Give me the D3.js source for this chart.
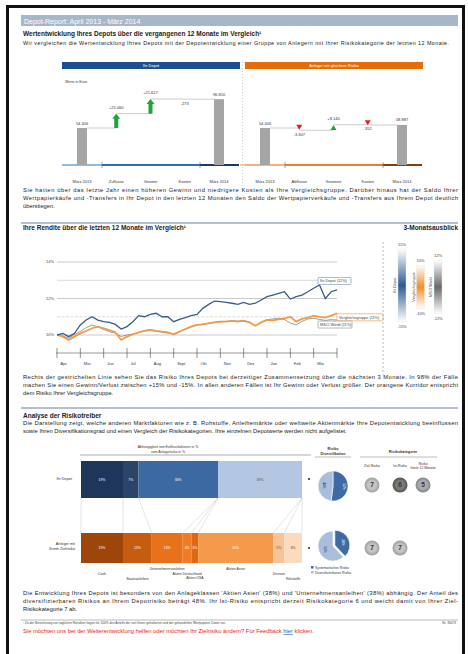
<!DOCTYPE html>
<html>
<head>
<meta charset="utf-8">
<script src="https://cdn.jsdelivr.net/npm/d3@7"></script>
<style>
body{margin:0;background:#fff}
svg{display:block;font-family:Arial,"Liberation Sans",sans-serif}
</style>
</head>
<body>
<svg id="page"></svg>
<script>
// waterfall data
const depotCats = ["März 2013", "Zuflüsse", "Gewinn", "Kosten", "März 2014"];
const depotVals = [54406, 21060, 21617, -273, 96810];
const depotMarks = ["arrow", "arrow", "none"];
const peerCats = ["März 2013", "Abflüsse", "Gewinne", "Kosten", "März 2014"];
const peerVals = [54406, -3307, 8140, -352, 58887];
const peerMarks = ["tri", "tri", "tri"];

// line chart data (quarter month steps, Apr 2013 - Mär 2014)
const months = ["Apr", "Mai", "Jun", "Jul", "Aug", "Sept", "Okt", "Nov", "Dez", "Jan", "Feb", "Mär"];
const yTicks = [10, 11, 12, 13, 14];
const depotSeries = [10.00, 10.09, 9.91, 10.09, 10.55, 10.82, 11.00, 10.82, 10.73, 10.69, 10.58, 10.33,
  10.46, 10.73, 11.06, 11.00, 11.13, 11.19, 11.00, 11.00, 10.73, 10.86, 10.95, 11.06,
  11.13, 11.46, 11.68, 11.86, 11.83, 11.79, 11.74, 11.68, 11.79, 11.68, 11.74, 11.92,
  12.10, 12.19, 12.28, 12.37, 11.97, 12.10, 12.19, 12.37, 12.56, 12.74, 12.00, 12.37, 12.47];
const peerSeries = [10.00, 9.91, 9.73, 9.91, 10.09, 10.22, 10.37, 10.46, 10.37, 10.27, 10.15, 9.73,
  9.91, 10.04, 10.15, 10.22, 10.27, 10.22, 10.18, 10.15, 10.04, 10.18, 10.33, 10.46,
  10.55, 10.58, 10.64, 10.69, 10.73, 10.73, 10.77, 10.73, 10.77, 10.69, 10.51, 10.69,
  10.82, 10.80, 10.86, 10.91, 11.00, 10.73, 10.88, 10.95, 11.06, 10.99, 10.95, 11.06, 11.19];
const msciSeries = [10.00, 9.95, 9.82, 10.02, 10.20, 10.40, 10.55, 10.45, 10.30, 10.18, 10.10, 9.92,
  10.00, 10.05, 10.12, 10.25, 10.30, 10.22, 10.15, 10.10, 10.06, 10.20, 10.32, 10.45,
  10.55, 10.60, 10.65, 10.70, 10.72, 10.75, 10.78, 10.76, 10.80, 10.70, 10.50, 10.70,
  10.84, 10.88, 10.92, 10.85, 10.65, 10.55, 10.75, 10.88, 10.92, 10.85, 10.80, 10.84, 10.82];
const seriesLabels = ["Ihr Depot (12%)", "Vergleichsgruppe (11%)", "MSCI World (11%)"];

// 3-Monatsausblick
const outlookNames = ["Ihr Depot", "Vergleichsgruppe", "MSCI World"];
const outlookRange = [15, 10, 12];

// risk drivers
const factorCats = ["Cash", "Staatsanleihen", "Unternehmensanleihen", "Aktien Deutschland", "Aktien USA", "Aktien Asien", "Devisen", "Rohstoffe"];
const depotShares = [19, 7, 36, 0, 0, 38, 0, 0];
const peerShares = [19, 13, 14, 4, 3, 34, 5, 8];
const divDepot = [52, 48];
const divPeer = [38, 62];
const divNames = ["Systematisches Risiko", "Diversifizierbares Risiko"];
const riskHeads = ["Ziel-Risiko", "Ist-Risiko", "Risiko letzte 12 Monate"];
const riskDepot = [7, 6, 5];
const riskPeer = [7, 7];

const svg = d3.select("#page").attr("width", 468).attr("height", 654);
const de = d3.formatLocale({decimal: ",", thousands: ".", grouping: [3], currency: ["", "€"], minus: "-"});
const fmtVal = de.format(",d"), fmtStep = de.format("+,d");

function txt(x, y, s, size, opts) {
  opts = opts || {};
  return svg.append("text").attr("x", x).attr("y", y).attr("font-size", size)
    .attr("fill", opts.fill || "#222").attr("font-weight", opts.bold ? "bold" : null)
    .attr("text-anchor", opts.anchor || "start").text(s);
}
function para(lines, y, lh) {
  lines.forEach((s, i) => {
    const t = txt(23, y + i * lh, s, 5.8);
    if (i < lines.length - 1) t.attr("textLength", 435).attr("lengthAdjust", "spacing");
  });
}

// frame + header
svg.append("rect").attr("x", 7.5).attr("y", 6.5).attr("width", 456).attr("height", 660)
  .attr("fill", "#fff").attr("stroke", "#111").attr("stroke-width", 3);
svg.append("rect").attr("x", 21).attr("y", 15).attr("width", 437).attr("height", 11).attr("fill", "#a8b6ca");
txt(24, 23.5, "Depot-Report: April 2013 - März 2014", 7, {fill: "#fff"});
txt(23, 35.5, "Wertentwicklung Ihres Depots über die vergangenen 12 Monate im Vergleich¹", 6.5, {bold: true});
txt(23, 45, "Wir vergleichen die Wertentwicklung Ihres Depots mit der Depotentwicklung einer Gruppe von Anlegern mit Ihrer Risikokategorie der letzten 12 Monate.", 5.4)
  .attr("textLength", 426).attr("lengthAdjust", "spacing");

// ---------- waterfalls ----------
function waterfall(cats, vals, marks, xr, title, col, base) {
  const x = d3.scalePoint().domain(cats).range(xr);
  const y = d3.scaleLinear().domain([0, 100000]).range([165, 97]);
  const g = svg.append("g");
  g.append("rect").attr("x", xr[0] - 20).attr("y", 62).attr("width", 178).attr("height", 7).attr("fill", col);
  g.append("text").attr("x", xr[0] + 69).attr("y", 67.3).attr("font-size", 4).attr("fill", "#fff")
    .attr("text-anchor", "middle").text(title);

  // baseline in three parts
  const bx = [xr[0] - 20, xr[0] + 20, xr[1] - 19, xr[1] + 20];
  base.forEach((c, i) => {
    g.append("line").attr("x1", bx[i]).attr("x2", bx[i + 1]).attr("y1", 165).attr("y2", 165)
      .attr("stroke", c).attr("stroke-width", 2);
  });
  [bx[1], bx[2]].forEach(t => g.append("line").attr("x1", t).attr("x2", t).attr("y1", 162).attr("y2", 168)
    .attr("stroke", "#666").attr("stroke-width", 0.6));

  const n = cats.length;
  [0, n - 1].forEach(i => {
    g.append("rect").attr("x", x(cats[i]) - 5).attr("y", y(vals[i])).attr("width", 10)
      .attr("height", y(0) - y(vals[i])).attr("fill", "#a5a5a5");
    g.append("text").attr("x", x(cats[i])).attr("y", y(vals[i]) - 3.5).attr("font-size", 4)
      .attr("text-anchor", "middle").attr("fill", "#333").text(fmtVal(vals[i]));
  });

  let run = vals[0];
  let lx = x(cats[0]) + 5;
  for (let i = 1; i < n - 1; i++) {
    const xc = x(cats[i]);
    const prev = run;
    run += vals[i];
    g.append("line").attr("x1", lx).attr("x2", xc).attr("y1", y(prev)).attr("y2", y(prev))
      .attr("stroke", "#9a9a9a").attr("stroke-width", 0.5);
    const y0 = y(prev), y1 = y(run), up = vals[i] > 0;
    const m = marks[i - 1];
    if (m === "arrow") {
      g.append("path").attr("fill", "#1fa33c")
        .attr("d", `M${xc - 2},${y0} L${xc - 2},${y1 + 5} L${xc - 4},${y1 + 5} L${xc},${y1} L${xc + 4},${y1 + 5} L${xc + 2},${y1 + 5} L${xc + 2},${y0} Z`);
    } else if (m === "tri") {
      const yc = (y0 + y1) / 2 - (up ? 0 : 2);
      const d = up ? `M${xc - 3},${yc + 2.5} L${xc + 3},${yc + 2.5} L${xc},${yc - 2.5} Z`
                   : `M${xc - 3},${yc - 2.5} L${xc + 3},${yc - 2.5} L${xc},${yc + 2.5} Z`;
      g.append("path").attr("d", d).attr("fill", up ? "#1fa33c" : "#e0221c");
    }
    g.append("text").attr("x", xc).attr("y", up ? Math.min(y0, y1) - 4.5 : Math.max(y0, y1) + 5.5)
      .attr("font-size", 4).attr("text-anchor", "middle").attr("fill", "#333").text(fmtStep(vals[i]));
    lx = xc;
  }
  g.append("line").attr("x1", lx).attr("x2", x(cats[n - 1]) - 5).attr("y1", y(run)).attr("y2", y(run))
    .attr("stroke", "#9a9a9a").attr("stroke-width", 0.5);

  cats.forEach(c => g.append("text").attr("x", x(c)).attr("y", 183).attr("font-size", 4)
    .attr("text-anchor", "middle").attr("fill", "#333").text(c));
}
waterfall(depotCats, depotVals, depotMarks, [82, 219], "Ihr Depot", "#1f4e8c", ["#8fbce6", "#2f6db5", "#1f3864"]);
waterfall(peerCats, peerVals, peerMarks, [265, 402], "Anleger mit gleichem Risiko", "#e46c0a", ["#f4b183", "#ed7d31", "#7f3f10"]);
txt(65, 82.5, "Werte in Euro", 3.6, {fill: "#333"});
svg.append("line").attr("x1", 242.5).attr("x2", 242.5).attr("y1", 62).attr("y2", 188)
  .attr("stroke", "#b0b0b0").attr("stroke-width", 0.6).attr("stroke-dasharray", "1,2");
svg.append("line").attr("x1", 240).attr("x2", 245).attr("y1", 165).attr("y2", 165).attr("stroke", "#ed7d31").attr("stroke-width", 0.8);

para(["Sie hatten über das letzte Jahr einen höheren Gewinn und niedrigere Kosten als Ihre Vergleichsgruppe. Darüber hinaus hat der Saldo Ihrer",
  "Wertpapierkäufe und -Transfers in Ihr Depot in den letzten 12 Monaten den Saldo der Wertpapierverkäufe und -Transfers aus Ihrem Depot deutlich",
  "überstiegen."], 192, 8);

svg.append("line").attr("x1", 21).attr("x2", 458).attr("y1", 223).attr("y2", 223).attr("stroke", "#b3bed0").attr("stroke-width", 2);
txt(23, 230, "Ihre Rendite über die letzten 12 Monate im Vergleich¹", 6.5, {bold: true});
txt(458, 230, "3-Monatsausblick", 6.5, {bold: true, anchor: "end"});

// ---------- line chart ----------
const lx = d3.scaleLinear().domain([0, 12]).range([57, 337]);
const ly = d3.scaleLinear().domain([10, 14]).range([335, 262]);
const lc = svg.append("g");
yTicks.forEach(t => {
  lc.append("line").attr("x1", 57).attr("x2", 337).attr("y1", ly(t)).attr("y2", ly(t))
    .attr("stroke", t % 2 === 0 ? "#c4c4c4" : "#d6d6d6").attr("stroke-width", 0.9)
    .attr("stroke-dasharray", t === 11 ? "3,1.5" : null);
  if (t % 2 === 0) lc.append("text").attr("x", 54).attr("y", ly(t) + 1.3).attr("font-size", 4)
    .attr("text-anchor", "end").attr("fill", "#444").text(t + "%");
});
lc.append("line").attr("x1", 56).attr("x2", 337).attr("y1", 353).attr("y2", 353).attr("stroke", "#555").attr("stroke-width", 0.6);
d3.range(0, 13).forEach(m => {
  lc.append("line").attr("x1", lx(m)).attr("x2", lx(m)).attr("y1", 348).attr("y2", 358)
    .attr("stroke", "#444").attr("stroke-width", 0.6);
  if (m < 12) lc.append("text").attr("x", lx(m) + 3.5).attr("y", 365).attr("font-size", 4)
    .attr("fill", "#333").text(months[m]);
});
const line = d3.line().x((d, i) => lx(i * 0.25)).y(d => ly(d));
lc.append("path").datum(msciSeries).attr("d", line).attr("fill", "none").attr("stroke", "#909090").attr("stroke-width", 0.9);
lc.append("path").datum(peerSeries).attr("d", line).attr("fill", "none").attr("stroke", "#f29a48").attr("stroke-width", 1.8);
lc.append("path").datum(depotSeries).attr("d", line).attr("fill", "none").attr("stroke", "#3b5b88").attr("stroke-width", 1.3);

function tag(x, yv, dy, w, s, col) {
  const yc = ly(yv) + dy;
  lc.append("rect").attr("x", x).attr("y", yc - 3.5).attr("width", w).attr("height", 7)
    .attr("fill", "#fff").attr("stroke", col).attr("stroke-width", 0.7).attr("rx", 0.8);
  lc.append("text").attr("x", x + 2).attr("y", yc + 1.4).attr("font-size", 3.8).attr("fill", "#444").text(s);
}
tag(318, depotSeries[48], -9, 33, seriesLabels[0], "#7f9ac2");
tag(337, peerSeries[48], 4, 46, seriesLabels[1], "#f2a25a");
tag(318, msciSeries[48], 4.5, 34, seriesLabels[2], "#9a9a9a");

svg.append("line").attr("x1", 383).attr("x2", 383).attr("y1", 242).attr("y2", 375)
  .attr("stroke", "#9a9a9a").attr("stroke-width", 0.7).attr("stroke-dasharray", "2,2");

// outlook gradient bars
const defs = svg.append("defs");
const outlookCols = ["#2e5b93", "#f0902c", "#6a6a6a"];
const ox = [402, 420.5, 438];
const oScale = d3.scaleLinear().domain([-15, 15]).range([322, 249]);
outlookNames.forEach((nm, i) => {
  const gid = "og" + i;
  const gr = defs.append("linearGradient").attr("id", gid).attr("x1", 0).attr("x2", 0).attr("y1", 0).attr("y2", 1);
  gr.append("stop").attr("offset", "0%").attr("stop-color", "#fff");
  gr.append("stop").attr("offset", "50%").attr("stop-color", outlookCols[i]);
  gr.append("stop").attr("offset", "100%").attr("stop-color", "#fff");
  const r = outlookRange[i];
  const top = oScale(r) + (i ? 4 : 0), bot = oScale(-r) - (i ? 1 : 0);
  svg.append("rect").attr("x", ox[i] - 4).attr("y", top).attr("width", 8).attr("height", bot - top)
    .attr("fill", `url(#${gid})`).attr("stroke", "#e4e4e4").attr("stroke-width", 0.4);
  txt(ox[i], top - 3, r + "%", 4, {anchor: "middle", fill: "#444"});
  txt(ox[i], bot + 6, "-" + r + "%", 4, {anchor: "middle", fill: "#444"});
  svg.append("text").attr("transform", `translate(${ox[i] - 6},${(top + bot) / 2}) rotate(-90)`)
    .attr("font-size", 3.8).attr("text-anchor", "middle").attr("fill", "#444").text(nm);
});

para(["Rechts der gestrichelten Linie sehen Sie das Risiko Ihres Depots bei derzeitiger Zusammensetzung über die nächsten 3 Monate. In 98% der Fälle",
  "machen Sie einen Gewinn/Verlust zwischen +15% und -15%. In allen anderen Fällen ist Ihr Gewinn oder Verlust größer. Der orangene Korridor entspricht",
  "dem Risiko Ihrer Vergleichsgruppe."], 379, 8);
svg.append("line").attr("x1", 21).attr("x2", 458).attr("y1", 408).attr("y2", 408).attr("stroke", "#b3bed0").attr("stroke-width", 2);
txt(23, 417.5, "Analyse der Risikotreiber", 6.5, {bold: true});
para(["Die Darstellung zeigt, welche anderen Marktfaktoren wie z. B. Rohstoffe, Anleihemärkte oder weltweite Aktienmärkte Ihre Depotentwicklung beeinflussen",
  "sowie Ihren Diversifikationsgrad und einen Vergleich der Risikokategorien. Ihre einzelnen Depotwerte werden nicht aufgelistet."], 425, 7.5);

// ---------- stacked factor bars ----------
const sx = d3.scaleLinear().domain([0, 100]).range([81, 302]);
const blueCols = ["#1e3659", "#2c4468", "#3d69a3", "#5b83b8", "#7596c4", "#b4c7e2", "#c9d7ea", "#dbe5f1"];
const orangeCols = ["#9e4509", "#c65c10", "#e8721b", "#f07c25", "#e06812", "#f59a4a", "#f9c398", "#fcdabd"];
const labelRows = [575, 580, 570, 574.5, 578.5, 570, 575, 580];
function cum(a) { let s = 0; return a.map(v => { const r = [s, s + v]; s += v; return r; }); }
const cTop = cum(depotShares), cBot = cum(peerShares);

txt(168, 448, "Abhängigkeit von Einflussfaktoren in %", 3.5, {anchor: "middle", fill: "#333"});
txt(168, 452.5, "vom Anlagerisiko in %", 3.5, {anchor: "middle", fill: "#333"});
svg.append("line").attr("x1", 80).attr("x2", 311).attr("y1", 455).attr("y2", 455).attr("stroke", "#555").attr("stroke-width", 0.5);

function stack(c, vals, cols, y0, h) {
  c.forEach((d, i) => {
    if (vals[i] === 0) return;
    svg.append("rect").attr("x", sx(d[0])).attr("y", y0).attr("width", sx(d[1]) - sx(d[0])).attr("height", h).attr("fill", cols[i]);
    svg.append("text").attr("x", (sx(d[0]) + sx(d[1])) / 2).attr("y", y0 + h / 2 + 1.2).attr("font-size", 3.4)
      .attr("text-anchor", "middle").attr("fill", i >= 6 || (cols === blueCols && i === 5) ? "#555" : "#fff").text(vals[i] + "%");
  });
}
stack(cTop, depotShares, blueCols, 461, 37);
stack(cBot, peerShares, orangeCols, 533, 30);
// connector lines between bars
const edgesTop = [0].concat(cTop.map(d => d[1])), edgesBot = [0].concat(cBot.map(d => d[1]));
edgesTop.forEach((e, i) => {
  svg.append("line").attr("x1", sx(e)).attr("x2", sx(edgesBot[i])).attr("y1", 498).attr("y2", 533)
    .attr("stroke", "#bdbdbd").attr("stroke-width", 0.4);
});
factorCats.forEach((c, i) => {
  txt((sx(cBot[i][0]) + sx(cBot[i][1])) / 2, labelRows[i], c, 3.4, {anchor: "middle", fill: "#333"});
});
txt(72, 480, "Ihr Depot", 3.8, {anchor: "end", fill: "#333"});
txt(75, 545, "Anleger mit", 3.8, {anchor: "end", fill: "#333"});
txt(75, 550, "Ihrem Zielrisiko", 3.8, {anchor: "end", fill: "#333"});
[479, 548].forEach(yy => svg.append("circle").attr("cx", 309).attr("cy", yy).attr("r", 1).attr("fill", "#222"));

// ---------- diversification pies ----------
txt(333, 450, "Risiko", 3.6, {anchor: "middle", fill: "#333", bold: true});
txt(333, 455, "Diversifikation", 3.6, {anchor: "middle", fill: "#333", bold: true});
svg.append("line").attr("x1", 315).attr("x2", 351).attr("y1", 457).attr("y2", 457).attr("stroke", "#555").attr("stroke-width", 0.4);
const pie = d3.pie().sort(null);
const arc = d3.arc().innerRadius(0).outerRadius(15);
const pieCols = ["#3e6aa5", "#a8bedc"];
function drawPie(vals, cy, explode) {
  const g = svg.append("g").attr("transform", `translate(333,${cy})`);
  pie(vals).forEach((a, i) => {
    const c = arc.centroid(a), k = (i === 0 ? explode : 0) / Math.hypot(c[0], c[1]);
    g.append("path").attr("d", arc(a)).attr("transform", `translate(${c[0] * k},${c[1] * k})`)
      .attr("fill", pieCols[i]).attr("stroke", "#fff").attr("stroke-width", 0.6);
    g.append("text").attr("transform", `translate(${c[0] * 1.3},${c[1] * 1.3}) rotate(90)`).attr("font-size", 3.2)
      .attr("text-anchor", "middle").attr("fill", i ? "#333" : "#fff").text(vals[i] + "%");
  });
}
drawPie(divDepot, 486, 0);
drawPie(divPeer, 546, 2);
divNames.forEach((nm, i) => {
  svg.append("rect").attr("x", 311).attr("y", 566 + i * 5).attr("width", 2.5).attr("height", 2.5).attr("fill", pieCols[i]);
  txt(315, 568.5 + i * 5, nm, 3.4, {fill: "#333"});
});

// ---------- risk categories ----------
txt(403, 453, "Risikokategorie", 3.8, {anchor: "middle", fill: "#333", bold: true});
svg.append("line").attr("x1", 360).attr("x2", 437).attr("y1", 457).attr("y2", 457).attr("stroke", "#555").attr("stroke-width", 0.4);
const rx = [372, 400, 423];
txt(rx[0], 467, riskHeads[0], 3.4, {anchor: "middle", fill: "#333"});
txt(rx[1], 467, riskHeads[1], 3.4, {anchor: "middle", fill: "#333"});
txt(rx[2], 464.5, "Risiko", 3.4, {anchor: "middle", fill: "#333"});
txt(rx[2], 469, "letzte 12 Monate", 3.4, {anchor: "middle", fill: "#333"});
const rg = defs.append("radialGradient").attr("id", "rgl");
rg.append("stop").attr("offset", "55%").attr("stop-color", "#c4c4c4");
rg.append("stop").attr("offset", "100%").attr("stop-color", "#9c9c9c");
const rd = defs.append("radialGradient").attr("id", "rgd");
rd.append("stop").attr("offset", "55%").attr("stop-color", "#7a7a7a");
rd.append("stop").attr("offset", "100%").attr("stop-color", "#4f4f4f");
const rm = defs.append("radialGradient").attr("id", "rgm");
rm.append("stop").attr("offset", "55%").attr("stop-color", "#ababab");
rm.append("stop").attr("offset", "100%").attr("stop-color", "#858585");
function riskRow(vals, fills, cy) {
  vals.forEach((v, i) => {
    svg.append("circle").attr("cx", rx[i]).attr("cy", cy).attr("r", 7.5).attr("fill", fills[i]);
    txt(rx[i], cy + 2.3, v, 6.5, {anchor: "middle", fill: "#333", bold: true});
  });
}
riskRow(riskDepot, ["url(#rgl)", "url(#rgd)", "url(#rgm)"], 485);
riskRow(riskPeer, ["url(#rgl)", "url(#rgl)"], 548);

// ---------- bottom text ----------
para(["Die Entwicklung Ihres Depots ist besonders von den Anlageklassen 'Aktien Asien' (38%) und 'Unternehmensanleihen' (38%) abhängig. Der Anteil des",
  "diversifizierbaren Risikos an Ihrem Depotrisiko beträgt 48%. Ihr Ist-Risiko entspricht derzeit Risikokategorie 6 und weicht damit von Ihrer Ziel-",
  "Risikokategorie 7 ab."], 595, 8);
svg.append("line").attr("x1", 21).attr("x2", 458).attr("y1", 620).attr("y2", 620).attr("stroke", "#b8b8b8").attr("stroke-width", 1);
txt(23, 624, "¹ Zu der Berechnung von täglichen Renditen liegen für 100% des Anteils der von Ihnen gehaltenen und der gehandelten Wertpapiere Daten vor.", 3.2, {fill: "#444"});
txt(456, 624, "Nr. 36073", 3.2, {anchor: "end", fill: "#444"});
const red = txt(23, 633, "", 5.8, {fill: "#e81c1c"});
red.append("tspan").text("Sie möchten uns bei der Weiterentwicklung helfen oder möchten Ihr Zielrisiko ändern? Für Feedback ");
red.append("tspan").attr("fill", "#1f5fbf").attr("text-decoration", "underline").text("hier");
red.append("tspan").text(" klicken.");
</script>
</body>
</html>
